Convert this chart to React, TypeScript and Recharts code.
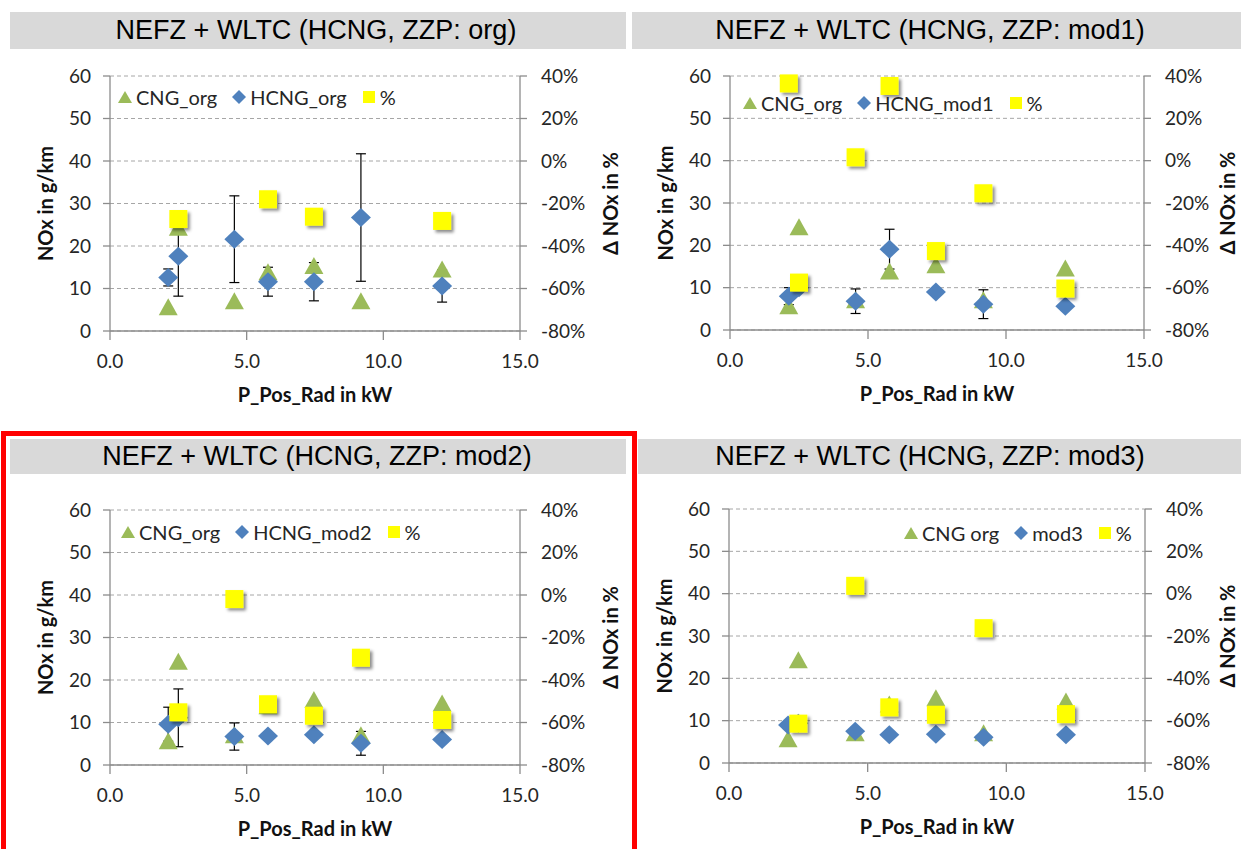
import React from 'react';
import { ScatterChart, Scatter, XAxis, YAxis, CartesianGrid, ErrorBar, Legend } from 'recharts';

// P_Pos_Rad in kW, same operating points in all four charts
const power = [2.13, 2.5, 4.55, 5.78, 7.46, 9.18, 12.15];
const powerTicks = [0, 5, 10, 15];
const noxTicks = [0, 10, 20, 30, 40, 50, 60];
const deltaTicks = [-80, -60, -40, -20, 0, 20, 40];

// NOx in g/km, CNG reference
const cngOrg = [5.6, 24.3, 7, 13.8, 15.3, 7, 14.5];

const hcngOrg = [12.6, 17.6, 21.6, 11.6, 11.6, 26.7, 10.6];
const hcngOrgErr = [2, 9.4, 10.2, 3.4, 4.5, 15, 3.8];
const deltaOrg = [null, -27.3, null, -18, -26.2, null, -28.2];

const hcngMod1 = [8, 10, 6.8, 19.1, 9, 6.1, 5.6];
const hcngMod1Err = [2, 0, 2.9, 4.7, 0, 3.4, 0];
const deltaMod1 = [36.5, -57.6, 1.6, 35.3, -42.7, -15.4, -60.4];

const hcngMod2 = [9.6, 11.1, 6.7, 6.8, 7.1, 5.1, 6];
const hcngMod2Err = [4, 6.8, 3.2, 0, 0, 2.8, 0];
const deltaMod2 = [null, -55.2, -1.9, -51.4, -56.8, -29.5, -58.8];

const mod3 = [9, 9.4, 7.5, 6.7, 6.8, 6.1, 6.7];
const deltaMod3 = [null, -61.4, 3.7, -53.7, -57.2, -16.3, -56.9];

const FONT = 'Lato, "Open Sans", sans-serif';
const GREEN = '#9bbb59';
const BLUE = '#4f81bd';
const YELLOW = '#ffff00';
const AXIS = '#8c8c8c';

const toPoints = (ys: (number | null)[], errs?: number[]) =>
  power
    .map((x, i) => ({ x, y: ys[i], err: errs ? errs[i] : 0 }))
    .filter((p) => p.y !== null);

const Triangle = ({ cx, cy }: any) => (
  <polygon points={`${cx},${cy - 9} ${cx + 9.5},${cy + 8} ${cx - 9.5},${cy + 8}`} fill={GREEN} />
);
const Diamond = ({ cx, cy }: any) => (
  <polygon points={`${cx},${cy - 9.5} ${cx + 10},${cy} ${cx},${cy + 9.5} ${cx - 10},${cy}`} fill={BLUE} />
);
const Square = ({ cx, cy }: any) => (
  <rect x={cx - 9} y={cy - 9} width={18} height={18} fill={YELLOW} filter="url(#sqShadow)" />
);

const icon = (kind: string) => {
  if (kind === 'triangle') return <polygon points="7,1 14,13 0,13" fill={GREEN} />;
  if (kind === 'diamond') return <polygon points="7,0 14,7 7,14 0,7" fill={BLUE} />;
  return <rect x={1} y={1} width={12} height={12} fill={YELLOW} />;
};

const LegendRow = ({ names }: { names: string[] }) => {
  const kinds = ['triangle', 'diamond', 'square'];
  return (
    <div style={{ display: 'flex', alignItems: 'center', fontFamily: FONT, fontSize: 20, lineHeight: '22px', color: '#262626', whiteSpace: 'nowrap' }}>
      {names.map((n, i) => (
        <span key={n} style={{ display: 'flex', alignItems: 'center', marginRight: i < names.length - 1 ? 15 : 0 }}>
          <svg width={14} height={14} style={{ marginRight: 4 }}>{icon(kinds[i])}</svg>
          {n}
        </span>
      ))}
    </div>
  );
};

const tickStyle = { fontSize: 19, fill: '#262626', fontFamily: FONT };
const titleStyle = { fontSize: 20, fontWeight: 700, fill: '#111', fontFamily: FONT, textAnchor: 'middle' as const };

function Panel({ title, titleCx, bar, plot, names, legendLeft, legendCy, hcng, hcngErr, delta, rightTitleDx = 90.7 }: any) {
  const ML = 110, MT = 20, MR = 110, MB = 80;
  const left = plot.l - ML;
  const top = plot.t - MT;
  const width = ML + (plot.r - plot.l) + MR;
  const height = MT + (plot.b - plot.t) + MB;
  return (
    <>
      <div style={{ position: 'absolute', left: bar.left, top: bar.top, width: bar.width, height: bar.height, background: '#d9d9d9' }} />
      <div style={{ position: 'absolute', left: titleCx, top: bar.top, transform: 'translateX(-50%)', height: bar.height, lineHeight: `${bar.height}px`, fontFamily: '"Liberation Sans", Arial, sans-serif', fontSize: 27, color: '#000', whiteSpace: 'nowrap' }}>
        {title}
      </div>
      <div style={{ position: 'absolute', left, top }}>
        <ScatterChart width={width} height={height} margin={{ top: MT, right: 0, bottom: 0, left: 0 }}>
          <CartesianGrid yAxisId="left" vertical={false} stroke="#a6a6a6" strokeDasharray="4 3" />
          <XAxis
            type="number"
            dataKey="x"
            domain={[0, 15]}
            ticks={powerTicks}
            tickFormatter={(v: number) => v.toFixed(1)}
            height={MB}
            tickSize={9}
            tickMargin={15}
            tick={tickStyle}
            axisLine={{ stroke: AXIS, strokeWidth: 1.3 }}
            tickLine={{ stroke: AXIS, strokeWidth: 1.3 }}
            label={{ value: 'P_Pos_Rad in kW', position: 'insideBottom', offset: 9, style: titleStyle }}
          />
          <YAxis
            yAxisId="left"
            type="number"
            dataKey="y"
            domain={[0, 60]}
            ticks={noxTicks}
            width={ML}
            tickSize={7}
            tickMargin={12}
            tick={tickStyle}
            axisLine={{ stroke: AXIS, strokeWidth: 1.3 }}
            tickLine={{ stroke: AXIS, strokeWidth: 1.3 }}
            label={{ value: 'NOx in g/km', angle: -90, position: 'insideLeft', offset: ML - 64.5, style: titleStyle }}
          />
          <YAxis
            yAxisId="right"
            orientation="right"
            type="number"
            dataKey="y"
            domain={[-80, 40]}
            ticks={deltaTicks}
            tickFormatter={(v: number) => `${v}%`}
            width={MR}
            tickSize={7}
            tickMargin={14}
            tick={tickStyle}
            axisLine={{ stroke: AXIS, strokeWidth: 1.3 }}
            tickLine={{ stroke: AXIS, strokeWidth: 1.3 }}
            label={{ value: 'Δ NOx in %', angle: -90, position: 'insideRight', offset: MR - rightTitleDx, style: titleStyle }}
          />
          <Legend
            layout="horizontal"
            verticalAlign="middle"
            align="center"
            wrapperStyle={{ left: legendLeft - left, top: legendCy - 11 - top, width: 'auto' }}
            content={() => <LegendRow names={names} />}
          />
          <Scatter name={names[0]} yAxisId="left" data={toPoints(cngOrg)} fill={GREEN} legendType="triangle" shape={Triangle} isAnimationActive={false} />
          <Scatter name={names[1]} yAxisId="left" data={toPoints(hcng, hcngErr)} fill={BLUE} legendType="diamond" shape={Diamond} isAnimationActive={false}>
            {hcngErr && <ErrorBar dataKey="err" direction="y" width={5} stroke="#000" strokeWidth={1.2} isAnimationActive={false} />}
          </Scatter>
          <Scatter name={names[2]} yAxisId="right" data={toPoints(delta)} fill={YELLOW} legendType="square" shape={Square} isAnimationActive={false} />
        </ScatterChart>
      </div>
    </>
  );
}

export default function App() {
  return (
    <div style={{ position: 'absolute', left: 0, top: 0, width: 1241, height: 849, overflow: 'hidden', background: '#fff' }}>
      <svg width={0} height={0} style={{ position: 'absolute' }}>
        <defs>
          <filter id="sqShadow" x="-50%" y="-50%" width="200%" height="200%">
            <feDropShadow dx="2.5" dy="2.5" stdDeviation="1.6" floodColor="#000" floodOpacity="0.45" />
          </filter>
        </defs>
      </svg>
      <Panel
        title="NEFZ + WLTC (HCNG, ZZP: org)"
        titleCx={316}
        bar={{ left: 10, top: 12, width: 616, height: 37 }}
        plot={{ l: 110, r: 520, t: 76, b: 331 }}
        names={['CNG_org', 'HCNG_org', '%']}
        legendLeft={118}
        legendCy={97}
        hcng={hcngOrg}
        hcngErr={hcngOrgErr}
        delta={deltaOrg}
      />
      <Panel
        title="NEFZ + WLTC (HCNG, ZZP: mod1)"
        titleCx={930}
        bar={{ left: 632, top: 12, width: 609, height: 37 }}
        plot={{ l: 730, r: 1144, t: 76, b: 330 }}
        names={['CNG_org', 'HCNG_mod1', '%']}
        legendLeft={743}
        legendCy={103}
        hcng={hcngMod1}
        hcngErr={hcngMod1Err}
        delta={deltaMod1}
        rightTitleDx={84}
      />
      <Panel
        title="NEFZ + WLTC (HCNG, ZZP: mod2)"
        titleCx={317}
        bar={{ left: 10, top: 439, width: 616, height: 35 }}
        plot={{ l: 110, r: 520, t: 510, b: 765 }}
        names={['CNG_org', 'HCNG_mod2', '%']}
        legendLeft={121}
        legendCy={532}
        hcng={hcngMod2}
        hcngErr={hcngMod2Err}
        delta={deltaMod2}
      />
      <Panel
        title="NEFZ + WLTC (HCNG, ZZP: mod3)"
        titleCx={930}
        bar={{ left: 638, top: 439, width: 603, height: 35 }}
        plot={{ l: 729, r: 1145, t: 509, b: 763 }}
        names={['CNG org', 'mod3', '%']}
        legendLeft={904}
        legendCy={533}
        hcng={mod3}
        delta={deltaMod3}
        rightTitleDx={83}
      />
      <div style={{ position: 'absolute', left: 1, top: 431, width: 636, height: 440, border: '5px solid #ff0000', boxSizing: 'border-box' }} />
    </div>
  );
}
